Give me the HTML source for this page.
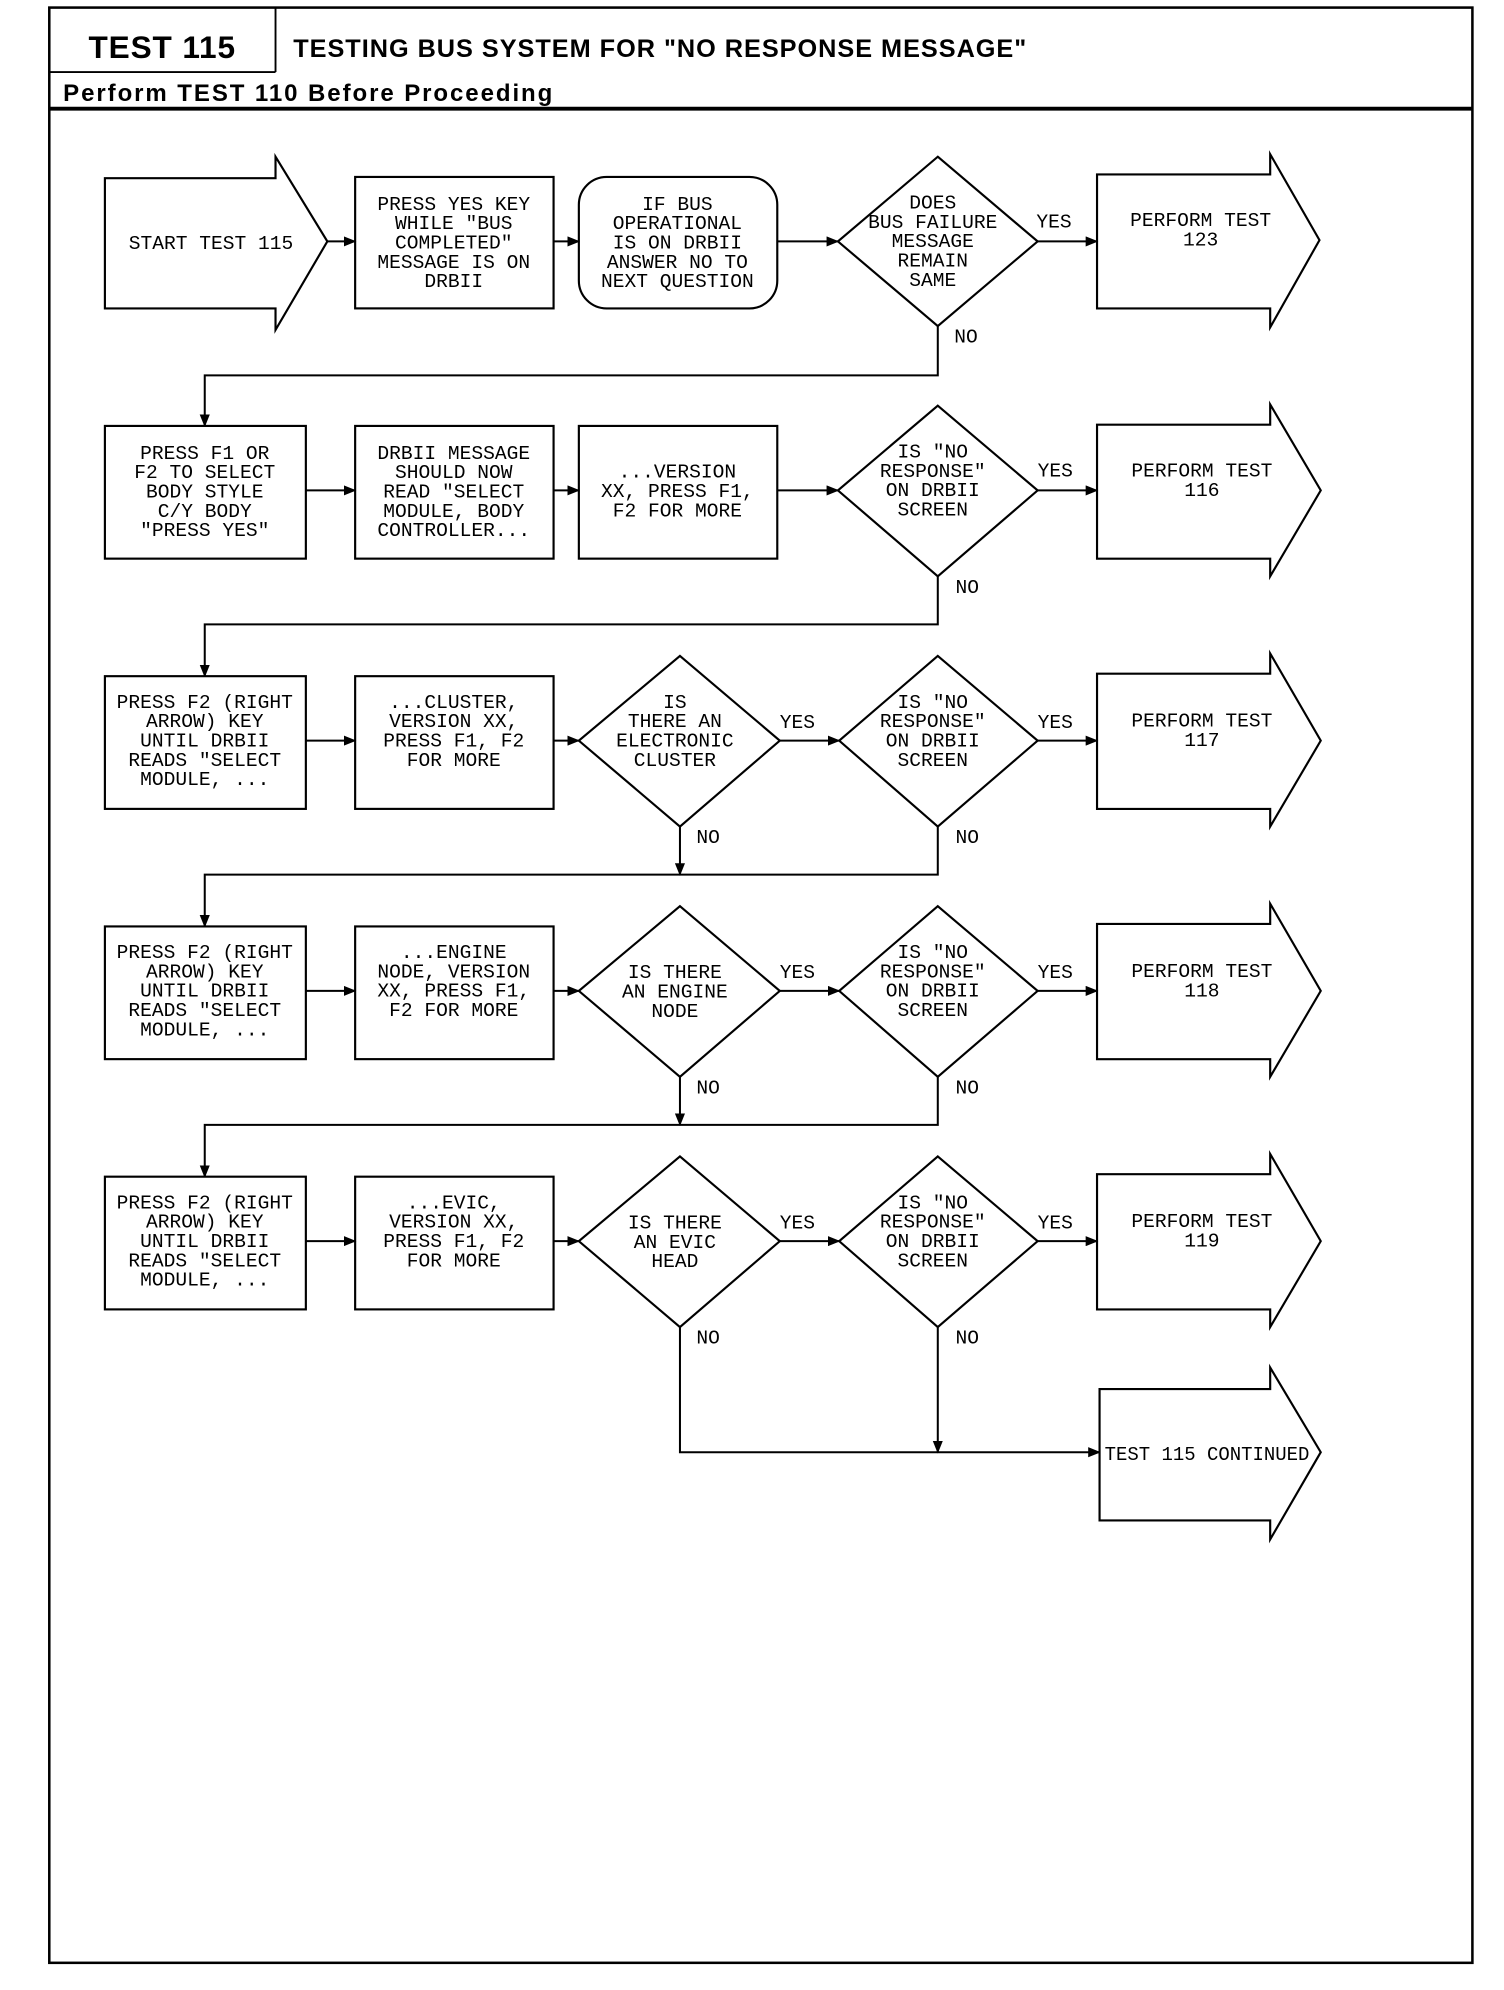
<!DOCTYPE html>
<html><head><meta charset="utf-8"><style>
html,body{margin:0;padding:0;background:#fff}
svg{display:block}
.t{font-family:"Liberation Mono",monospace;font-size:15.5px;fill:#000;text-anchor:middle}
.l{font-family:"Liberation Mono",monospace;font-size:15.5px;fill:#000}
.s{fill:#fff;stroke:#000;stroke-width:1.7}
.c{fill:none;stroke:#000;stroke-width:1.6}
</style></head><body>
<svg width="1504" height="1990" viewBox="0 0 1190 1574.5" preserveAspectRatio="none" xmlns="http://www.w3.org/2000/svg">
<defs><marker id="a" markerWidth="10" markerHeight="8" refX="9" refY="4" orient="auto" markerUnits="userSpaceOnUse"><path d="M0,0 L10,4 L0,8 Z" fill="#000"/></marker></defs>
<rect x="39" y="6" width="1126" height="1547" fill="none" stroke="#000" stroke-width="2"/>
<line x1="218" y1="6" x2="218" y2="57" stroke="#000" stroke-width="1.5"/>
<line x1="39" y1="57" x2="218" y2="57" stroke="#000" stroke-width="1.5"/>
<line x1="39" y1="86" x2="1165" y2="86" stroke="#000" stroke-width="3"/>
<text x="70" y="46" font-family="Liberation Sans,sans-serif" font-weight="bold" font-size="25" textLength="116">TEST 115</text>
<text x="232" y="45" font-family="Liberation Sans,sans-serif" font-weight="bold" font-size="20" textLength="580">TESTING BUS SYSTEM FOR "NO RESPONSE MESSAGE"</text>
<text x="50" y="80" font-family="Liberation Sans,sans-serif" font-weight="bold" font-size="19" textLength="387">Perform TEST 110 Before Proceeding</text>

<!-- Row 1 -->
<polygon class="s" points="83,141 218,141 218,124 259,191 218,261 218,244 83,244"/>
<text class="t" x="167" y="197">START TEST 115</text>
<rect class="s" x="281" y="140" width="157" height="104"/>
<text class="t" x="359" y="166">PRESS YES KEY<tspan x="359" dy="15.3">WHILE "BUS</tspan><tspan x="359" dy="15.3">COMPLETED"</tspan><tspan x="359" dy="15.3">MESSAGE IS ON</tspan><tspan x="359" dy="15.3">DRBII</tspan></text>
<rect class="s" x="458" y="140" width="157" height="104" rx="22"/>
<text class="t" x="536" y="166">IF BUS<tspan x="536" dy="15.3">OPERATIONAL</tspan><tspan x="536" dy="15.3">IS ON DRBII</tspan><tspan x="536" dy="15.3">ANSWER NO TO</tspan><tspan x="536" dy="15.3">NEXT QUESTION</tspan></text>
<polygon class="s" points="742,124 821,191 742,258 663,191"/>
<text class="t" x="738" y="165">DOES<tspan x="738" dy="15.3">BUS FAILURE</tspan><tspan x="738" dy="15.3">MESSAGE</tspan><tspan x="738" dy="15.3">REMAIN</tspan><tspan x="738" dy="15.3">SAME</tspan></text>
<polygon class="s" points="868,138 1005,138 1005,122 1044,190 1005,259 1005,244 868,244"/>
<text class="t" x="950" y="179">PERFORM TEST<tspan x="950" dy="15.3">123</tspan></text>
<line class="c" x1="259" y1="191" x2="281" y2="191" marker-end="url(#a)"/>
<line class="c" x1="438" y1="191" x2="458" y2="191" marker-end="url(#a)"/>
<line class="c" x1="615" y1="191" x2="663" y2="191" marker-end="url(#a)"/>
<line class="c" x1="821" y1="191" x2="868" y2="191" marker-end="url(#a)"/>
<text class="l" x="820" y="180">YES</text>
<text class="l" x="755" y="271">NO</text>
<polyline class="c" points="742,258 742,297 162,297 162,337" marker-end="url(#a)"/>

<!-- Row 2 -->
<rect class="s" x="83" y="337" width="159" height="105"/>
<text class="t" x="162" y="363">PRESS F1 OR<tspan x="162" dy="15.3">F2 TO SELECT</tspan><tspan x="162" dy="15.3">BODY STYLE</tspan><tspan x="162" dy="15.3">C/Y BODY</tspan><tspan x="162" dy="15.3">"PRESS YES"</tspan></text>
<rect class="s" x="281" y="337" width="157" height="105"/>
<text class="t" x="359" y="363">DRBII MESSAGE<tspan x="359" dy="15.3">SHOULD NOW</tspan><tspan x="359" dy="15.3">READ "SELECT</tspan><tspan x="359" dy="15.3">MODULE, BODY</tspan><tspan x="359" dy="15.3">CONTROLLER...</tspan></text>
<rect class="s" x="458" y="337" width="157" height="105"/>
<text class="t" x="536" y="378">...VERSION<tspan x="536" dy="15.3">XX, PRESS F1,</tspan><tspan x="536" dy="15.3">F2 FOR MORE</tspan></text>
<polygon class="s" points="742,321 821,388 742,456 663,388"/>
<text class="t" x="738" y="362">IS "NO<tspan x="738" dy="15.3">RESPONSE"</tspan><tspan x="738" dy="15.3">ON DRBII</tspan><tspan x="738" dy="15.3">SCREEN</tspan></text>
<polygon class="s" points="868,336 1005,336 1005,320 1045,388 1005,456 1005,442 868,442"/>
<text class="t" x="951" y="377">PERFORM TEST<tspan x="951" dy="15.3">116</tspan></text>
<line class="c" x1="242" y1="388" x2="281" y2="388" marker-end="url(#a)"/>
<line class="c" x1="438" y1="388" x2="458" y2="388" marker-end="url(#a)"/>
<line class="c" x1="615" y1="388" x2="663" y2="388" marker-end="url(#a)"/>
<line class="c" x1="821" y1="388" x2="868" y2="388" marker-end="url(#a)"/>
<text class="l" x="821" y="377">YES</text>
<text class="l" x="756" y="469">NO</text>
<polyline class="c" points="742,456 742,494 162,494 162,535" marker-end="url(#a)"/>

<!-- Rows 3-5 -->
<g id="r3">
<rect class="s" x="83" y="535" width="159" height="105"/>
<text class="t" x="162" y="560">PRESS F2 (RIGHT<tspan x="162" dy="15.3">ARROW) KEY</tspan><tspan x="162" dy="15.3">UNTIL DRBII</tspan><tspan x="162" dy="15.3">READS "SELECT</tspan><tspan x="162" dy="15.3">MODULE, ...</tspan></text>
<rect class="s" x="281" y="535" width="157" height="105"/>
<text class="t" x="359" y="560">...CLUSTER,<tspan x="359" dy="15.3">VERSION XX,</tspan><tspan x="359" dy="15.3">PRESS F1, F2</tspan><tspan x="359" dy="15.3">FOR MORE</tspan></text>
<polygon class="s" points="538,519 617,586 538,654 458,586"/>
<text class="t" x="534" y="560">IS<tspan x="534" dy="15.3">THERE AN</tspan><tspan x="534" dy="15.3">ELECTRONIC</tspan><tspan x="534" dy="15.3">CLUSTER</tspan></text>
<polygon class="s" points="742,519 821,586 742,654 664,586"/>
<text class="t" x="738" y="560">IS "NO<tspan x="738" dy="15.3">RESPONSE"</tspan><tspan x="738" dy="15.3">ON DRBII</tspan><tspan x="738" dy="15.3">SCREEN</tspan></text>
<polygon class="s" points="868,533 1005,533 1005,517 1045,586 1005,654 1005,640 868,640"/>
<text class="t" x="951" y="575">PERFORM TEST<tspan x="951" dy="15.3">117</tspan></text>
<line class="c" x1="242" y1="586" x2="281" y2="586" marker-end="url(#a)"/>
<line class="c" x1="438" y1="586" x2="458" y2="586" marker-end="url(#a)"/>
<line class="c" x1="617" y1="586" x2="664" y2="586" marker-end="url(#a)"/>
<line class="c" x1="821" y1="586" x2="868" y2="586" marker-end="url(#a)"/>
<text class="l" x="617" y="576">YES</text>
<text class="l" x="821" y="576">YES</text>
<text class="l" x="551" y="667">NO</text>
<text class="l" x="756" y="667">NO</text>
<line class="c" x1="538" y1="654" x2="538" y2="692" marker-end="url(#a)"/>
<polyline class="c" points="742,654 742,692 162,692 162,733" marker-end="url(#a)"/>
</g>

<g>
<rect class="s" x="83" y="733" width="159" height="105"/>
<text class="t" x="162" y="758">PRESS F2 (RIGHT<tspan x="162" dy="15.3">ARROW) KEY</tspan><tspan x="162" dy="15.3">UNTIL DRBII</tspan><tspan x="162" dy="15.3">READS "SELECT</tspan><tspan x="162" dy="15.3">MODULE, ...</tspan></text>
<rect class="s" x="281" y="733" width="157" height="105"/>
<text class="t" x="359" y="758">...ENGINE<tspan x="359" dy="15.3">NODE, VERSION</tspan><tspan x="359" dy="15.3">XX, PRESS F1,</tspan><tspan x="359" dy="15.3">F2 FOR MORE</tspan></text>
<polygon class="s" points="538,717 617,784 538,852 458,784"/>
<text class="t" x="534" y="774">IS THERE<tspan x="534" dy="15.3">AN ENGINE</tspan><tspan x="534" dy="15.3">NODE</tspan></text>
<polygon class="s" points="742,717 821,784 742,852 664,784"/>
<text class="t" x="738" y="758">IS "NO<tspan x="738" dy="15.3">RESPONSE"</tspan><tspan x="738" dy="15.3">ON DRBII</tspan><tspan x="738" dy="15.3">SCREEN</tspan></text>
<polygon class="s" points="868,731 1005,731 1005,715 1045,784 1005,852 1005,838 868,838"/>
<text class="t" x="951" y="773">PERFORM TEST<tspan x="951" dy="15.3">118</tspan></text>
<line class="c" x1="242" y1="784" x2="281" y2="784" marker-end="url(#a)"/>
<line class="c" x1="438" y1="784" x2="458" y2="784" marker-end="url(#a)"/>
<line class="c" x1="617" y1="784" x2="664" y2="784" marker-end="url(#a)"/>
<line class="c" x1="821" y1="784" x2="868" y2="784" marker-end="url(#a)"/>
<text class="l" x="617" y="774">YES</text>
<text class="l" x="821" y="774">YES</text>
<text class="l" x="551" y="865">NO</text>
<text class="l" x="756" y="865">NO</text>
<line class="c" x1="538" y1="852" x2="538" y2="890" marker-end="url(#a)"/>
<polyline class="c" points="742,852 742,890 162,890 162,931" marker-end="url(#a)"/>
</g>

<g>
<rect class="s" x="83" y="931" width="159" height="105"/>
<text class="t" x="162" y="956">PRESS F2 (RIGHT<tspan x="162" dy="15.3">ARROW) KEY</tspan><tspan x="162" dy="15.3">UNTIL DRBII</tspan><tspan x="162" dy="15.3">READS "SELECT</tspan><tspan x="162" dy="15.3">MODULE, ...</tspan></text>
<rect class="s" x="281" y="931" width="157" height="105"/>
<text class="t" x="359" y="956">...EVIC,<tspan x="359" dy="15.3">VERSION XX,</tspan><tspan x="359" dy="15.3">PRESS F1, F2</tspan><tspan x="359" dy="15.3">FOR MORE</tspan></text>
<polygon class="s" points="538,915 617,982 538,1050 458,982"/>
<text class="t" x="534" y="972">IS THERE<tspan x="534" dy="15.3">AN EVIC</tspan><tspan x="534" dy="15.3">HEAD</tspan></text>
<polygon class="s" points="742,915 821,982 742,1050 664,982"/>
<text class="t" x="738" y="956">IS "NO<tspan x="738" dy="15.3">RESPONSE"</tspan><tspan x="738" dy="15.3">ON DRBII</tspan><tspan x="738" dy="15.3">SCREEN</tspan></text>
<polygon class="s" points="868,929 1005,929 1005,913 1045,982 1005,1050 1005,1036 868,1036"/>
<text class="t" x="951" y="971">PERFORM TEST<tspan x="951" dy="15.3">119</tspan></text>
<line class="c" x1="242" y1="982" x2="281" y2="982" marker-end="url(#a)"/>
<line class="c" x1="438" y1="982" x2="458" y2="982" marker-end="url(#a)"/>
<line class="c" x1="617" y1="982" x2="664" y2="982" marker-end="url(#a)"/>
<line class="c" x1="821" y1="982" x2="868" y2="982" marker-end="url(#a)"/>
<text class="l" x="617" y="972">YES</text>
<text class="l" x="821" y="972">YES</text>
<text class="l" x="551" y="1063">NO</text>
<text class="l" x="756" y="1063">NO</text>
<polyline class="c" points="538,1050 538,1149 870,1149" marker-end="url(#a)"/>
<line class="c" x1="742" y1="1050" x2="742" y2="1149" marker-end="url(#a)"/>
</g>

<polygon class="s" points="870,1099 1005,1099 1005,1082 1045,1149 1005,1218 1005,1203 870,1203"/>
<text class="l" x="874" y="1155" textLength="162" lengthAdjust="spacingAndGlyphs">TEST 115 CONTINUED</text>
</svg>
</body></html>
